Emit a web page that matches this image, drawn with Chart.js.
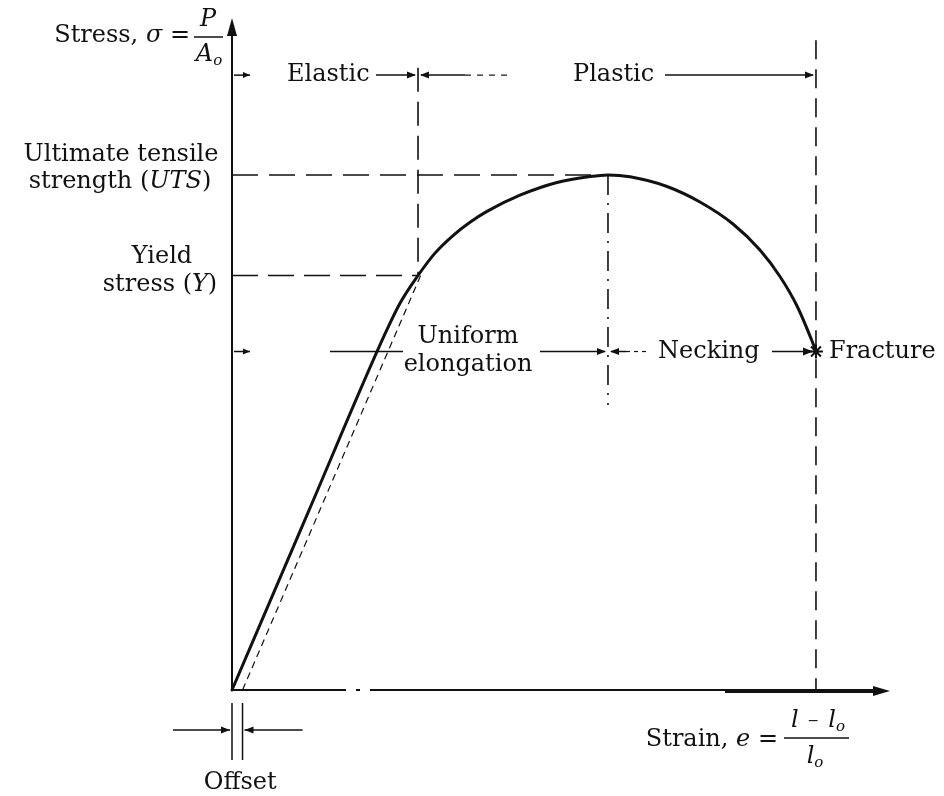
<!DOCTYPE html>
<html>
<head>
<meta charset="utf-8">
<script src="https://cdn.jsdelivr.net/npm/chart.js@4/dist/chart.umd.min.js"></script>
<style>
  html, body { margin: 0; padding: 0; background: #ffffff; }
  canvas { display: block; }
</style>
</head>
<body>
<canvas id="diagram" width="944" height="796"></canvas>
<script>
// Engineering stress–strain curve, schematic units (strain 0–100, stress 0–100)
const strain = [0, 11.6, 23.25, 25.53, 28.27, 30.85, 33.59, 36.17, 38.75, 43.77, 49.39,
                54.41, 57.14, 60.49, 66.11, 71.12, 76.14, 80.24, 83.28, 85.87, 88.15, 88.75];
const stress = [0, 26.5, 52.98, 57.56, 61.68, 65.01, 67.63, 69.60, 71.22, 73.63, 75.52,
                76.40, 76.64, 76.37, 74.93, 72.62, 69.35, 65.48, 61.53, 57.14, 51.93, 50.37];

// Characteristic points [strain, stress]
const yieldPt    = [28.27, 61.68];
const utsPt      = [57.14, 76.64];
const fracturePt = [88.75, 50.37];
const offsetStrain = 1.6;

// Extents of the region guide lines (stress units)
const regionRowStress = 91.5;
const yieldGuideTop = 92.6;
const fractureGuideTop = 96.7;
const utsGuideBottom = 42.4;

const modulus = stress[2] / strain[2];
const INK = '#111111';
const SERIF = '"DejaVu Serif", "Liberation Serif", serif';
const FS = 24;

function font(size, italic) {
  return (italic ? 'italic ' : '') + size + 'px ' + SERIF;
}

function seg(ctx, x1, y1, x2, y2, w, dash) {
  ctx.save();
  ctx.lineWidth = w;
  ctx.setLineDash(dash || []);
  ctx.beginPath();
  ctx.moveTo(x1, y1);
  ctx.lineTo(x2, y2);
  ctx.stroke();
  ctx.restore();
}

// filled arrow head, tip at (x, y) pointing along (dx, dy)
function head(ctx, x, y, dx, dy, len, half) {
  len = len || 9; half = half || 3.5;
  const nx = -dy, ny = dx;
  ctx.beginPath();
  ctx.moveTo(x, y);
  ctx.lineTo(x - dx * len + nx * half, y - dy * len + ny * half);
  ctx.lineTo(x - dx * len - nx * half, y - dy * len - ny * half);
  ctx.closePath();
  ctx.fill();
}

// text made of runs: [text, italic, size, dy]
function runs(ctx, parts, x, y, align) {
  let total = 0;
  const widths = parts.map(p => {
    ctx.font = font(p[2] || FS, p[1]);
    const w = ctx.measureText(p[0]).width;
    total += w;
    return w;
  });
  let cx = align === 'center' ? x - total / 2 : align === 'right' ? x - total : x;
  ctx.textAlign = 'left';
  ctx.textBaseline = 'middle';
  parts.forEach((p, i) => {
    ctx.font = font(p[2] || FS, p[1]);
    ctx.fillText(p[0], cx, y + (p[3] || 0));
    cx += widths[i];
  });
}

const annotations = {
  id: 'annotations',
  beforeDraw(chart) {
    const c = chart.ctx;
    c.save();
    c.fillStyle = '#ffffff';
    c.fillRect(0, 0, chart.width, chart.height);
    c.restore();
  },
  afterDatasetsDraw(chart) {
    const ctx = chart.ctx;
    const X = v => chart.scales.x.getPixelForValue(v);
    const Y = v => chart.scales.y.getPixelForValue(v);
    const x0 = X(0), y0 = Y(0), xEnd = X(100), yEnd = Y(100);
    const xY = X(yieldPt[0]), xU = X(utsPt[0]), xF = X(fracturePt[0]);
    const xO = X(offsetStrain);
    const rowTop = Y(regionRowStress);
    const rowMid = Y(fracturePt[1]);
    const yU = Y(utsPt[1]), yY = Y(yieldPt[1]);

    ctx.save();
    ctx.strokeStyle = INK;
    ctx.fillStyle = INK;
    ctx.lineCap = 'butt';

    // stress axis
    seg(ctx, x0, y0, x0, yEnd + 14, 2);
    head(ctx, x0, yEnd, 0, -1, 18, 5);

    // strain axis
    seg(ctx, x0, y0, x0 + 114, y0, 2);
    seg(ctx, x0 + 124, y0, x0 + 128, y0, 2);
    seg(ctx, x0 + 138, y0, x0 + 493, y0, 2);
    seg(ctx, x0 + 493, y0 + 1, xEnd - 14, y0 + 1, 4);
    head(ctx, xEnd, y0 + 1, 1, 0, 17, 5);

    // Elastic / Plastic row
    seg(ctx, x0 + 2, rowTop, x0 + 18, rowTop, 1.5);
    head(ctx, x0 + 18, rowTop, 1, 0, 7, 3);
    runs(ctx, [['Elastic', false]], x0 + 55, rowTop, 'left');
    seg(ctx, x0 + 144, rowTop, xY - 3, rowTop, 1.5);
    head(ctx, xY - 2, rowTop, 1, 0, 9, 3.5);
    seg(ctx, xY + 3, rowTop, xY + 47, rowTop, 1.5);
    head(ctx, xY + 2, rowTop, -1, 0, 9, 3.5);
    seg(ctx, xY + 47, rowTop, xY + 92, rowTop, 1.2, [6, 6]);
    runs(ctx, [['Plastic', false]], x0 + 341, rowTop, 'left');
    seg(ctx, x0 + 433, rowTop, xF - 3, rowTop, 1.5);
    head(ctx, xF - 2, rowTop, 1, 0, 9, 3.5);

    // Uniform elongation / Necking row
    seg(ctx, x0 + 2, rowMid, x0 + 18, rowMid, 1.5);
    head(ctx, x0 + 18, rowMid, 1, 0, 7, 3);
    seg(ctx, x0 + 98, rowMid, x0 + 171, rowMid, 1.5);
    runs(ctx, [['Uniform', false]], x0 + 236, rowMid - 15, 'center');
    runs(ctx, [['elongation', false]], x0 + 236, rowMid + 13, 'center');
    seg(ctx, x0 + 308, rowMid, xU - 3, rowMid, 1.5);
    head(ctx, xU - 2, rowMid, 1, 0, 9, 3.5);
    seg(ctx, xU + 3, rowMid, xU + 18, rowMid, 1.5);
    head(ctx, xU + 2, rowMid, -1, 0, 9, 3.5);
    seg(ctx, xU + 18, rowMid, xU + 38, rowMid, 1.2, [4, 4]);
    runs(ctx, [['Necking', false]], x0 + 426, rowMid, 'left');
    seg(ctx, x0 + 540, rowMid, xF - 4, rowMid, 1.5);
    head(ctx, xF - 3, rowMid, 1, 0, 10, 4);
    runs(ctx, [['Fracture', false]], xF + 13, rowMid, 'left');

    // offset dimension
    seg(ctx, x0, y0 + 13, x0, y0 + 70, 1.5);
    seg(ctx, xO, y0 + 13, xO, y0 + 70, 1.5);
    seg(ctx, x0 - 59, y0 + 40, x0 - 2, y0 + 40, 1.5);
    head(ctx, x0 - 2, y0 + 40, 1, 0, 9, 3.5);
    seg(ctx, xO + 2, y0 + 40, xO + 60, y0 + 40, 1.5);
    head(ctx, xO + 2, y0 + 40, -1, 0, 9, 3.5);
    runs(ctx, [['Offset', false]], (x0 + xO) / 2 + 3, y0 + 93, 'center');

    // left-hand labels
    runs(ctx, [['Ultimate tensile', false]], 121, yU - 20, 'center');
    runs(ctx, [['strength (', false], ['UTS', true], [')', false]], 120, yU + 7, 'center');
    runs(ctx, [['Yield', false]], 162, yY - 19, 'center');
    runs(ctx, [['stress (', false], ['Y', true], [')', false]], 160, yY + 9, 'center');

    // stress axis title: Stress, σ = P / A_o
    runs(ctx, [['Stress, ', false], ['\u03c3', true], [' =', false]], 190, 36, 'right');
    runs(ctx, [['P', true]], 208, 20, 'center');
    seg(ctx, 194, 37, 223, 37, 1.5);
    runs(ctx, [['A', true], ['o', true, 15, 6]], 209, 55, 'center');

    // strain axis title: Strain, e = (l − l_o) / l_o
    runs(ctx, [['Strain, ', false], ['e', true], [' =', false]], 778, 740, 'right');
    runs(ctx, [['l', true], ['  \u2212  ', false, 14], ['l', true], ['o', true, 15, 6]], 818, 721, 'center');
    seg(ctx, 784, 738, 849, 738, 1.5);
    runs(ctx, [['l', true], ['o', true, 15, 6]], 815, 757, 'center');

    ctx.restore();
  }
};

function pts(xs, ys) { return xs.map((x, i) => ({ x: x, y: ys[i] })); }

function guide(data, dash, width) {
  return {
    data: data,
    borderColor: INK,
    borderWidth: width || 1.6,
    borderDash: dash,
    pointRadius: 0,
    tension: 0,
    clip: false
  };
}

new Chart(document.getElementById('diagram'), {
  type: 'line',
  data: {
    datasets: [
      {
        label: 'Stress–strain',
        data: pts(strain, stress),
        borderColor: INK,
        borderWidth: 3,
        cubicInterpolationMode: 'monotone',
        borderCapStyle: 'round',
        borderJoinStyle: 'round',
        pointRadius: 0,
        clip: false
      },
      guide([{ x: offsetStrain, y: 0 },
             { x: offsetStrain + yieldPt[1] / modulus, y: yieldPt[1] }], [7, 5], 1.2),
      guide([{ x: 0, y: utsPt[1] }, { x: utsPt[0], y: utsPt[1] }], [26, 11]),
      guide([{ x: 0, y: yieldPt[1] }, { x: yieldPt[0], y: yieldPt[1] }], [26, 10]),
      guide([{ x: yieldPt[0], y: yieldGuideTop }, { x: yieldPt[0], y: yieldPt[1] }], [24, 10]),
      guide([{ x: utsPt[0], y: utsPt[1] }, { x: utsPt[0], y: utsGuideBottom }], [20, 8, 2, 8]),
      guide([{ x: fracturePt[0], y: fractureGuideTop }, { x: fracturePt[0], y: 0 }], [19, 10]),
      {
        label: 'Fracture',
        data: [{ x: fracturePt[0], y: fracturePt[1] }],
        showLine: false,
        pointStyle: 'star',
        pointRadius: 7,
        pointBorderWidth: 2,
        pointBorderColor: INK,
        pointBackgroundColor: INK,
        clip: false
      }
    ]
  },
  options: {
    responsive: false,
    animation: false,
    events: [],
    layout: { padding: { left: 232, right: 54, top: 18, bottom: 106 } },
    scales: {
      x: { type: 'linear', min: 0, max: 100, display: false },
      y: { type: 'linear', min: 0, max: 100, display: false }
    },
    plugins: {
      legend: { display: false },
      tooltip: { enabled: false }
    }
  },
  plugins: [annotations]
});
</script>
</body>
</html>
